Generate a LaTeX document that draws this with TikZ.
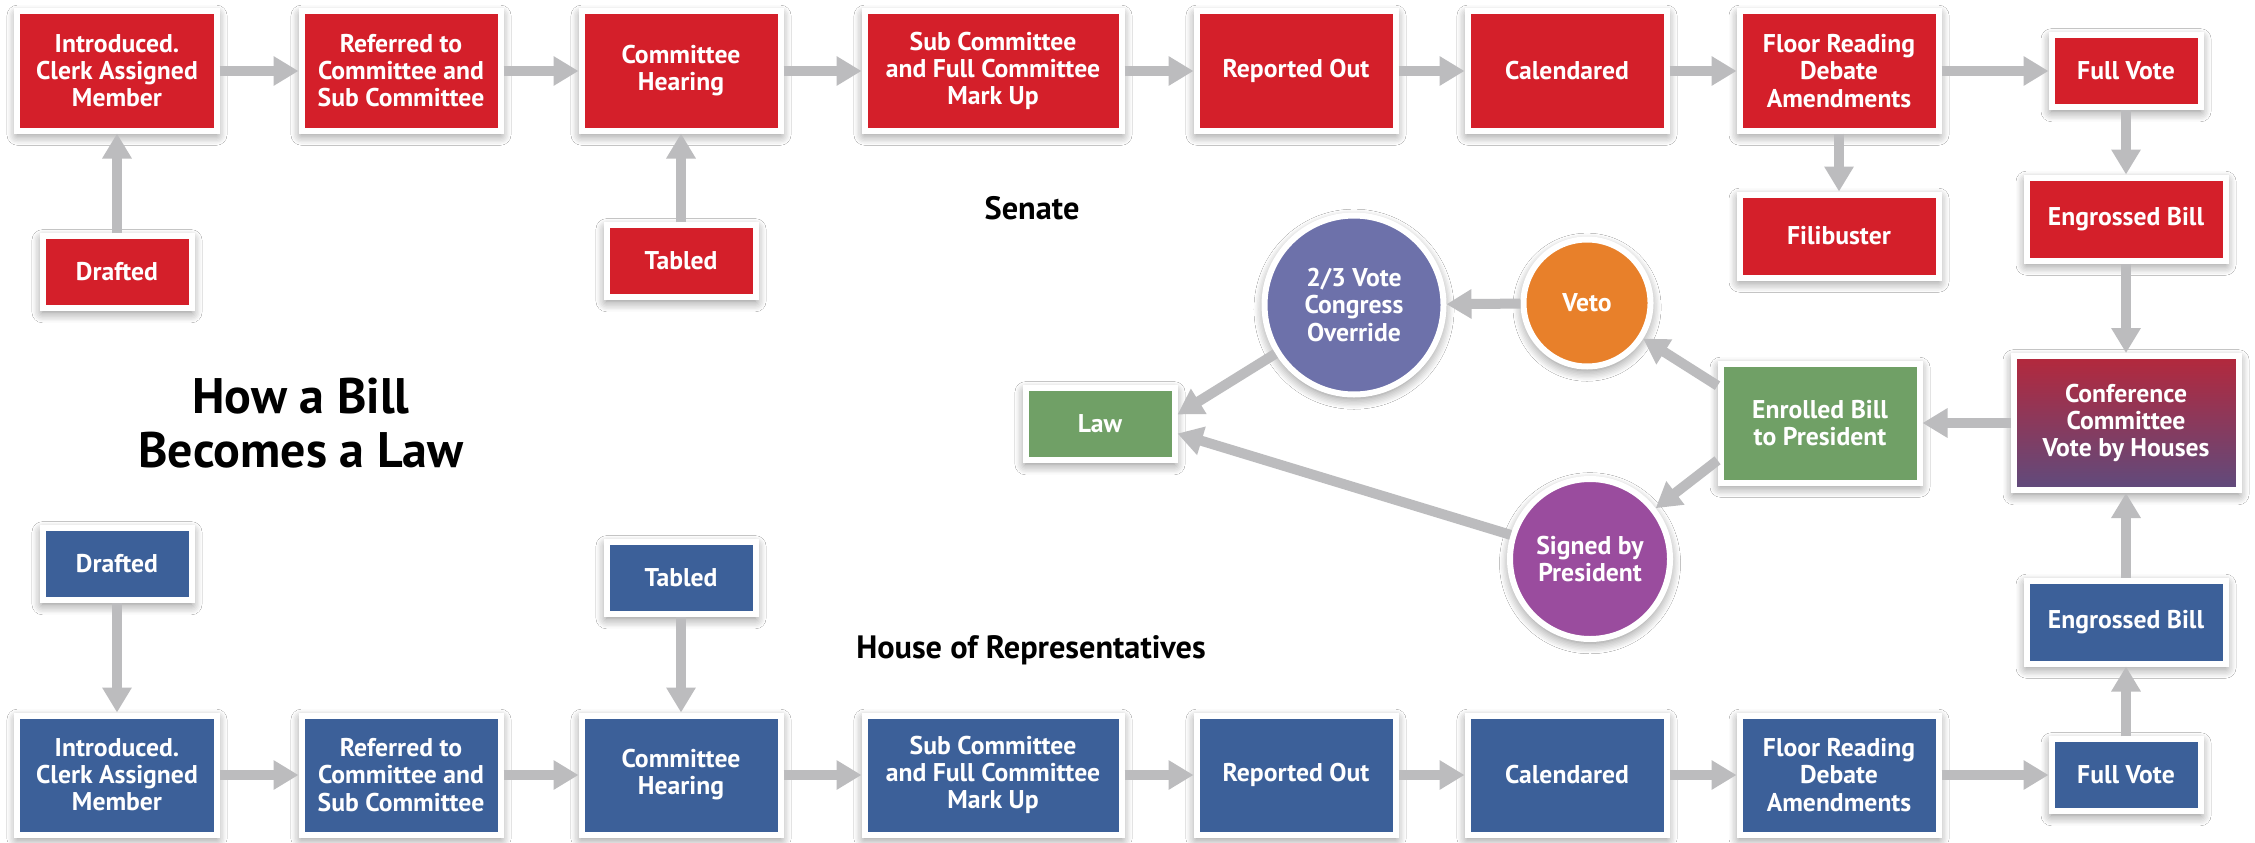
\documentclass[tikz,border=0pt]{standalone}
\usepackage{fontspec}
\setsansfont{PT Sans}
\usetikzlibrary{arrows.meta,shadows.blur}
\definecolor{senred}{RGB}{212,31,42}
\definecolor{houseblue}{RGB}{60,96,153}
\definecolor{lawgreen}{RGB}{112,160,102}
\definecolor{ovrpurple}{RGB}{109,113,170}
\definecolor{vetoorange}{RGB}{232,128,42}
\definecolor{signmagenta}{RGB}{154,76,158}
\definecolor{confred}{RGB}{180,40,60}
\definecolor{confpurple}{RGB}{95,75,125}
\definecolor{arrowgray}{RGB}{188,188,190}
\newcommand{\boxfont}{\sffamily\bfseries\fontsize{7.3}{7.7}\selectfont}
\begin{document}
\begin{tikzpicture}[
  stage/.style={rectangle,draw=white,line width=0.06cm,inner sep=0pt,align=center,text=white,font=\boxfont,
    minimum width=1.99cm,minimum height=1.19cm,
    blur shadow={shadow xshift=0pt,shadow yshift=-1.2pt,shadow blur radius=3pt,shadow blur steps=8,shadow opacity=50}},
  small/.style={minimum width=1.49cm,minimum height=0.72cm},
  mid/.style={minimum width=1.99cm,minimum height=0.83cm},
  wide/.style={minimum width=2.57cm},
  senate/.style={stage,fill=senred},
  house/.style={stage,fill=houseblue},
  bubble/.style={stage,circle},
  flow/.style={draw=arrowgray,line width=0.1cm,-{Stealth[inset=0pt,length=0.25cm,width=0.28cm]}},
  heading/.style={font=\sffamily\bfseries\fontsize{9.2}{11}\selectfont}
]
\path[use as bounding box,fill=white] (0,0) rectangle (22.55,8.42);
%
\node at (1.17,7.71) [senate] (s1) {Introduced.\\Clerk Assigned\\Member};
\node at (4.01,7.71) [senate] (s2) {Referred to\\Committee and\\Sub Committee};
\node at (6.81,7.71) [senate] (s3) {Committee\\Hearing};
\node at (9.93,7.71) [senate,wide] (s4) {Sub Committee\\and Full Committee\\Mark Up};
\node at (12.96,7.71) [senate] (s5) {Reported Out};
\node at (15.67,7.71) [senate] (s6) {Calendared};
\node at (18.39,7.71) [senate] (s7) {Floor Reading\\Debate\\Amendments};
\node at (21.26,7.71) [senate,small] (s8) {Full Vote};
%
\node at (1.17,5.70) [senate,small] (s0) {Drafted};
\node at (6.81,5.81) [senate,small] (st) {Tabled};
\node at (18.39,6.06) [senate,mid] (sf) {Filibuster};
\node at (21.26,6.23) [senate,mid] (se) {Engrossed Bill};
%
\node at (21.26,4.19) [stage,minimum width=2.25cm,minimum height=1.34cm,top color=confred,bottom color=confpurple] (conf) {Conference\\Committee\\Vote by Houses};
\node at (18.20,4.19) [stage,fill=lawgreen] (enr) {Enrolled Bill\\to President};
\node at (15.87,5.39) [bubble,fill=vetoorange,minimum size=1.27cm] (veto) {Veto};
\node at (13.54,5.37) [bubble,fill=ovrpurple,minimum size=1.79cm] (ovr) {2/3 Vote\\Congress\\Override};
\node at (15.90,2.83) [bubble,fill=signmagenta,minimum size=1.60cm] (sgn) {Signed by\\President};
\node at (11.00,4.18) [stage,small,fill=lawgreen] (law) {Law};
%
\node at (3.01,4.19) [align=center,font=\sffamily\bfseries\fontsize{14.2}{15.2}\selectfont] (title) {How a Bill\\Becomes a Law};
\node at (10.32,6.34) [heading] (senlabel) {Senate};
\node at (10.31,1.92) [heading] (houselabel) {House of Representatives};
%
\node at (1.17,2.78) [house,small] (h0) {Drafted};
\node at (6.81,2.64) [house,small] (ht) {Tabled};
\node at (21.26,2.20) [house,mid] (he) {Engrossed Bill};
%
\node at (1.17,0.67) [house] (h1) {Introduced.\\Clerk Assigned\\Member};
\node at (4.01,0.67) [house] (h2) {Referred to\\Committee and\\Sub Committee};
\node at (6.81,0.67) [house] (h3) {Committee\\Hearing};
\node at (9.93,0.67) [house,wide] (h4) {Sub Committee\\and Full Committee\\Mark Up};
\node at (12.96,0.67) [house] (h5) {Reported Out};
\node at (15.67,0.67) [house] (h6) {Calendared};
\node at (18.39,0.67) [house] (h7) {Floor Reading\\Debate\\Amendments};
\node at (21.26,0.67) [house,small] (h8) {Full Vote};
%
%
\draw[flow] (s1) -- (s2);
\draw[flow] (s2) -- (s3);
\draw[flow] (s3) -- (s4);
\draw[flow] (s4) -- (s5);
\draw[flow] (s5) -- (s6);
\draw[flow] (s6) -- (s7);
\draw[flow] (s7) -- (s8);
%
\draw[flow] (s0) -- (s1);
\draw[flow] (st) -- (s3);
\draw[flow] (s7) -- (sf);
\draw[flow] (s8) -- (se);
\draw[flow] (se) -- (conf);
%
\draw[flow] (conf) -- (enr);
\draw[flow] (enr.160) -- (veto);
\draw[flow] (enr.200) -- (sgn);
\draw[flow] (veto) -- (ovr);
\draw[flow] (ovr) -- (law.7);
\draw[flow] (sgn) -- (law.-7);
%
\draw[flow] (h1) -- (h2);
\draw[flow] (h2) -- (h3);
\draw[flow] (h3) -- (h4);
\draw[flow] (h4) -- (h5);
\draw[flow] (h5) -- (h6);
\draw[flow] (h6) -- (h7);
\draw[flow] (h7) -- (h8);
%
\draw[flow] (h0) -- (h1);
\draw[flow] (ht) -- (h3);
\draw[flow] (h8) -- (he);
\draw[flow] (he) -- (conf);
\end{tikzpicture}
\end{document}
